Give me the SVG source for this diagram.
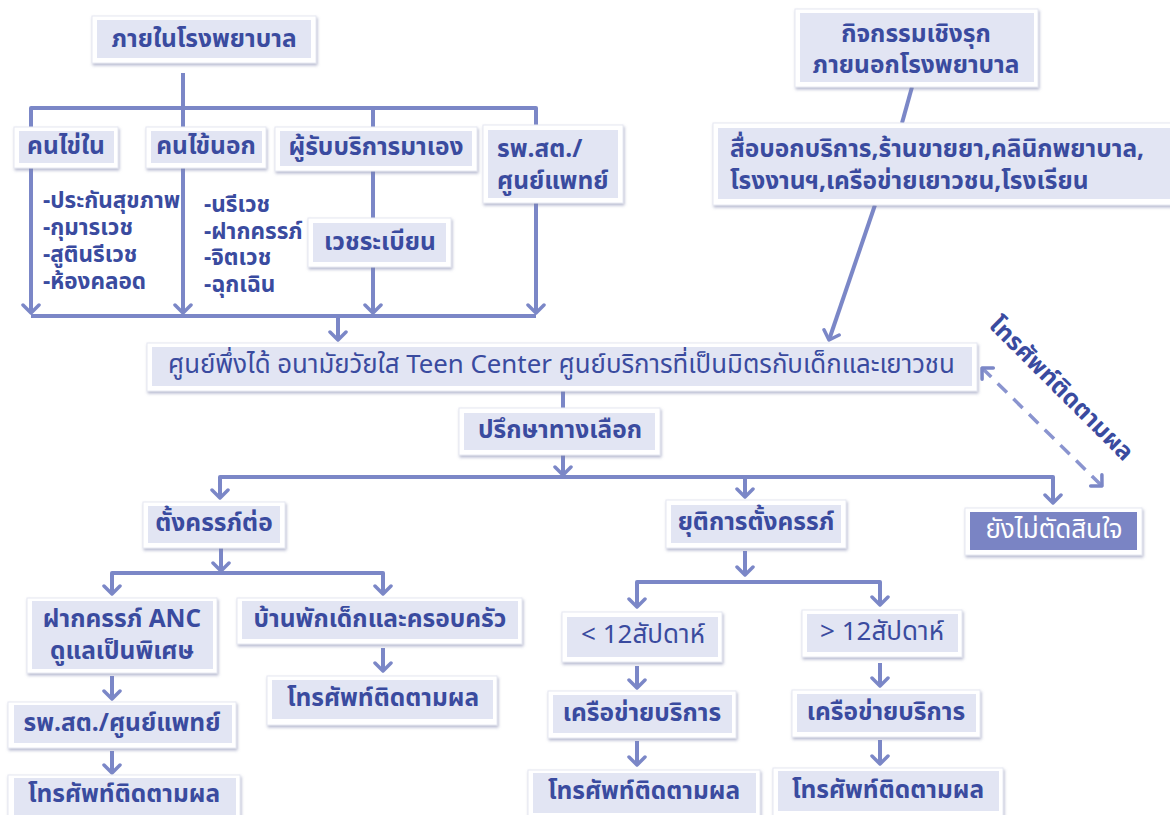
<svg xmlns="http://www.w3.org/2000/svg" width="1170" height="815" viewBox="0 0 1170 815">
<defs>
<filter id="sh" x="-10%" y="-20%" width="125%" height="150%"><feDropShadow dx="1" dy="2" stdDeviation="1.6" flood-color="#7a80a8" flood-opacity="0.55"/></filter>
<marker id="ah" viewBox="-10 -10 12 20" markerWidth="12" markerHeight="20" refX="0" refY="0" orient="auto-start-reverse" markerUnits="userSpaceOnUse"><path d="M-8,-8 L0,0 L-8,8" fill="none" stroke="#7b87c7" stroke-width="3.5" stroke-linecap="round" stroke-linejoin="round"/></marker>
</defs>
<style>
.fr{fill:#ffffff;stroke:#e6e8f2;stroke-width:1;filter:url(#sh)}
.in{fill:#e2e5f3}
.ind{fill:#7a84c4}
.t{font-family:"Noto Sans Thai","Noto Sans","DejaVu Sans",sans-serif;font-size:24.5px;font-weight:bold;fill:#3a4b9f;text-anchor:middle;dominant-baseline:central}
.tl{text-anchor:start}
.tw{fill:#ffffff;font-weight:normal;font-size:26px}
.tn{font-weight:normal}
.big{font-size:26px}
.ls{font-size:22.5px}
.teen{font-size:25.8px}
.c{fill:none;stroke:#7b87c7;stroke-width:4;stroke-linejoin:round}
.ca{marker-end:url(#ah)}
.d{fill:none;stroke:#8a94cf;stroke-width:3.5;stroke-dasharray:13 9;marker-start:url(#ah);marker-end:url(#ah)}
</style>
<rect width="1170" height="815" fill="#ffffff"/>
<g id="connectors">
<path class="c" d="M183,73 V127 M31,127 V108 H536 V125 M373,108 V127 M373,171 V218"/>
<path class="c ca" d="M31,168 V313"/>
<path class="c ca" d="M183,168 V313"/>
<path class="c ca" d="M373,267 V313"/>
<path class="c ca" d="M536,203 V313"/>
<path class="c" d="M31,316 H536"/>
<path class="c ca" d="M338,316 V340"/>
<path class="c" d="M912,87 L902,123"/>
<path class="c ca" d="M875,205 L829,340"/>
<path class="c" d="M563,391 V408"/>
<path class="c ca" d="M563,455 V475"/>
<path class="c" d="M220,490 V477 H1053 V490"/>
<path class="c ca" d="M220,477 V498"/>
<path class="c ca" d="M745,477 V497"/>
<path class="c ca" d="M1053,477 V503"/>
<path class="c ca" d="M221,548 V571"/>
<path class="c" d="M112,590 V573 H383 V590"/>
<path class="c ca" d="M112,573 V594"/>
<path class="c ca" d="M383,573 V594"/>
<path class="c ca" d="M112,676 V699"/>
<path class="c ca" d="M383,648 V671"/>
<path class="c ca" d="M112,751 V773"/>
<path class="c ca" d="M745,551 V575"/>
<path class="c" d="M637,600 V582 H880 V600"/>
<path class="c ca" d="M637,582 V607"/>
<path class="c ca" d="M880,582 V605"/>
<path class="c ca" d="M637,666 V688"/>
<path class="c ca" d="M880,663 V686"/>
<path class="c ca" d="M637,741 V765"/>
<path class="c ca" d="M880,740 V764"/>
<path class="d" d="M982,368 L1102,486"/>
</g>
<g id="n-hospital-in"><rect class="fr" x="92" y="16" width="224" height="47"/><rect class="in" x="97" y="20" width="214" height="38"/><text class="t" x="204" y="39">ภายในโรงพยาบาล</text></g>
<g id="n-ipd"><rect class="fr" x="14" y="127" width="104" height="41"/><rect class="in" x="19" y="131" width="95" height="32"/><text class="t" x="66" y="146">คนไข่ใน</text></g>
<g id="n-opd"><rect class="fr" x="146" y="127" width="120" height="41"/><rect class="in" x="151" y="131" width="111" height="32"/><text class="t" x="206" y="146">คนไข้นอก</text></g>
<g id="n-walkin"><rect class="fr" x="275" y="127" width="202" height="44"/><rect class="in" x="280" y="131" width="192" height="35"/><text class="t" x="376" y="147">ผู้รับบริการมาเอง</text></g>
<g id="n-rpst"><rect class="fr" x="483" y="125" width="140" height="78"/><rect class="in" x="488" y="130" width="130" height="68"/><text class="t tl" x="497" y="149">รพ.สต./</text><text class="t tl" x="497" y="181">ศูนย์แพทย์</text></g>
<g id="n-records"><rect class="fr" x="308" y="218" width="143" height="49"/><rect class="in" x="313" y="223" width="133" height="39"/><text class="t" x="380" y="242">เวชระเบียน</text></g>
<g id="list-ipd"><text class="t tl ls" x="43" y="201">-ประกันสุขภาพ</text><text class="t tl ls" x="43" y="228">-กุมารเวช</text><text class="t tl ls" x="43" y="255">-สูตินรีเวช</text><text class="t tl ls" x="43" y="282">-ห้องคลอด</text></g>
<g id="list-opd"><text class="t tl ls" x="204" y="205">-นรีเวช</text><text class="t tl ls" x="204" y="232">-ฝากครรภ์</text><text class="t tl ls" x="204" y="258">-จิตเวช</text><text class="t tl ls" x="204" y="285">-ฉุกเฉิน</text></g>
<g id="n-proactive"><rect class="fr" x="795" y="9" width="243" height="78"/><rect class="in" x="800" y="13" width="234" height="69"/><text class="t" x="916" y="34">กิจกรรมเชิงรุก</text><text class="t" x="916" y="65">ภายนอกโรงพยาบาล</text></g>
<g id="n-media"><rect class="fr" x="713" y="123" width="470" height="82"/><rect class="in" x="718" y="128" width="460" height="71"/><text class="t tl" x="730" y="149">สื่อบอกบริการ,ร้านขายยา,คลินิกพยาบาล,</text><text class="t tl" x="730" y="181">โรงงานฯ,เครือข่ายเยาวชน,โรงเรียน</text></g>
<g id="n-teen"><rect class="fr" x="147" y="343" width="830" height="48"/><rect class="in" x="152" y="347" width="820" height="39"/><text class="t tl tn teen" x="168" y="365">ศูนย์พึ่งได้ อนามัยวัยใส Teen Center ศูนย์บริการที่เป็นมิตรกับเด็กและเยาวชน</text></g>
<g id="n-counsel"><rect class="fr" x="459" y="408" width="201" height="47"/><rect class="in" x="464" y="413" width="191" height="37"/><text class="t" x="560" y="430">ปรึกษาทางเลือก</text></g>
<g id="n-continue"><rect class="fr" x="143" y="502" width="142" height="46"/><rect class="in" x="148" y="506" width="132" height="37"/><text class="t" x="214" y="523">ตั้งครรภ์ต่อ</text></g>
<g id="n-terminate"><rect class="fr" x="666" y="500" width="180" height="48"/><rect class="in" x="671" y="505" width="170" height="38"/><text class="t" x="756" y="522">ยุติการตั้งครรภ์</text></g>
<g id="n-undecided"><rect class="fr" x="965" y="508" width="177" height="47"/><rect class="ind" x="970" y="512" width="167" height="38"/><text class="t tw" x="1054" y="530">ยังไม่ตัดสินใจ</text></g>
<g id="n-anc"><rect class="fr" x="27" y="598" width="190" height="75"/><rect class="in" x="32" y="601" width="181" height="68"/><text class="t" x="122" y="619">ฝากครรภ์ ANC</text><text class="t" x="122" y="651">ดูแลเป็นพิเศษ</text></g>
<g id="n-shelter"><rect class="fr" x="237" y="598" width="285" height="46"/><rect class="in" x="242" y="601" width="276" height="38"/><text class="t" x="380" y="619">บ้านพักเด็กและครอบครัว</text></g>
<g id="n-rpst2"><rect class="fr" x="8" y="702" width="228" height="46"/><rect class="in" x="14" y="705" width="218" height="38"/><text class="t" x="122" y="723">รพ.สต./ศูนย์แพทย์</text></g>
<g id="n-follow1"><rect class="fr" x="8" y="775" width="232" height="50"/><rect class="in" x="14" y="778" width="222" height="40"/><text class="t" x="124" y="794">โทรศัพท์ติดตามผล</text></g>
<g id="n-follow2"><rect class="fr" x="267" y="676" width="230" height="49"/><rect class="in" x="272" y="680" width="221" height="39"/><text class="t" x="383" y="698">โทรศัพท์ติดตามผล</text></g>
<g id="n-lt12"><rect class="fr" x="562" y="612" width="160" height="50"/><rect class="in" x="567" y="617" width="151" height="40"/><text class="t tn big" x="643" y="635">&lt; 12สัปดาห์</text></g>
<g id="n-gt12"><rect class="fr" x="802" y="610" width="160" height="47"/><rect class="in" x="807" y="614" width="151" height="38"/><text class="t tn big" x="882" y="632">&gt; 12สัปดาห์</text></g>
<g id="n-net1"><rect class="fr" x="548" y="691" width="188" height="47"/><rect class="in" x="553" y="695" width="179" height="38"/><text class="t" x="642" y="713">เครือข่ายบริการ</text></g>
<g id="n-net2"><rect class="fr" x="792" y="690" width="188" height="47"/><rect class="in" x="797" y="694" width="179" height="38"/><text class="t" x="886" y="712">เครือข่ายบริการ</text></g>
<g id="n-follow3"><rect class="fr" x="528" y="770" width="232" height="50"/><rect class="in" x="533" y="773" width="223" height="40"/><text class="t" x="644" y="791">โทรศัพท์ติดตามผล</text></g>
<g id="n-follow4"><rect class="fr" x="773" y="768" width="230" height="50"/><rect class="in" x="778" y="771" width="221" height="40"/><text class="t" x="888" y="790">โทรศัพท์ติดตามผล</text></g>
<g id="label-phone"><text class="t" style="font-size:24.5px" x="1061" y="389" transform="rotate(45 1061 389)">โทรศัพท์ติดตามผล</text></g>
</svg>
